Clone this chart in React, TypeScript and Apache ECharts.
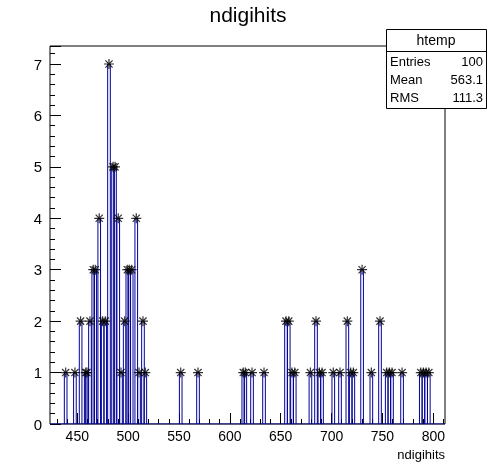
import React, { useEffect, useRef } from "react";
import * as echarts from "echarts";

const binWidth = 2.6;
const xMin = 423.2;
const xMax = 811.5;
const yMax = 7.35;
const binCenters = [
  438.6, 447.7, 453.3, 458.3, 459.5, 462.5, 465.7, 467.7, 471.6, 475, 477.5, 481.2, 485.2, 487.1, 490.3, 493,
  496.6, 499.2, 501.1, 503.5, 508, 510.7, 514.6, 516.9, 551.7, 568.7,
  613.2, 615.2, 621.8, 633.6, 655.2, 657.9, 661.1, 663.8, 679.2, 684.7, 688, 690.6, 701.7, 708.3, 715.5, 718.8,
  721.4, 730, 739.1, 747.6, 754.2, 756.8, 759.4, 769.3, 787.7, 790.3, 792.9, 795.6,
];
const binCounts = [
  1, 1, 2, 1, 1, 2, 3, 3, 4, 2, 2, 7, 5, 5, 4, 1,
  2, 3, 3, 3, 4, 1, 2, 1, 1, 1,
  1, 1, 1, 1, 2, 2, 1, 1, 1, 2, 1, 1, 1, 1, 2, 1,
  1, 3, 1, 2, 1, 1, 1, 1, 1, 1, 1, 1,
];
const xMajor = [450, 500, 550, 600, 650, 700, 750, 800];
const xMinor = [430, 440, 450, 460, 470, 480, 490, 500, 510, 520, 530, 540, 550, 560, 570, 580, 590, 600, 610, 620, 630, 640, 650, 660, 670, 680, 690, 700, 710, 720, 730, 740, 750, 760, 770, 780, 790, 800, 810];
const statsLabels = ["Entries", "Mean", "RMS"];
const statsValues = ["100", "563.1", "111.3"];

const FONT = "Liberation Sans";

export default function App() {
  const ref = useRef<HTMLDivElement>(null);
  useEffect(() => {
    const chart = echarts.init(ref.current!, null, { renderer: "svg" });
    const data = binCenters.map((c, i) => [c, binCounts[i]]);
    const baseX = {
      type: "value",
      min: xMin,
      max: xMax,
      splitLine: { show: false },
      axisLine: { show: false },
    };
    const graphic: any[] = [
      { type: "text", left: "center", top: 4, style: { text: "ndigihits", font: `21px ${FONT}`, fill: "#000" } },
      { type: "text", right: 51, top: 448, style: { text: "ndigihits", font: `13px ${FONT}`, fill: "#000" } },
      { type: "rect", shape: { x: 386.5, y: 29.5, width: 100, height: 79 }, style: { fill: "#fff", stroke: "#000", lineWidth: 1 }, z: 10 },
      { type: "line", shape: { x1: 386.5, y1: 51.5, x2: 486.5, y2: 51.5 }, style: { stroke: "#000", lineWidth: 1 }, z: 11 },
      { type: "text", x: 436, y: 33, style: { text: "htemp", font: `14px ${FONT}`, fill: "#000", align: "center" }, z: 11 },
    ];
    statsLabels.forEach((l, i) => {
      graphic.push({ type: "text", x: 390, y: 55 + i * 18, style: { text: l, font: `13px ${FONT}`, fill: "#000" }, z: 11 });
      graphic.push({ type: "text", x: 483, y: 55 + i * 18, style: { text: statsValues[i], font: `13px ${FONT}`, fill: "#000", align: "right" }, z: 11 });
    });
    chart.setOption({
      animation: false,
      grid: { left: 50, right: 51, top: 46, bottom: 48, show: true, borderColor: "#000", borderWidth: 1, backgroundColor: "#fff" },
      xAxis: [
        {
          ...baseX,
          axisTick: { show: true, inside: true, length: 5, customValues: xMinor, lineStyle: { color: "#000" } },
          axisLabel: { show: false },
        },
        {
          ...baseX,
          position: "bottom",
          axisTick: { show: true, inside: true, length: 11, customValues: xMajor, lineStyle: { color: "#000" } },
          axisLabel: { show: true, customValues: xMajor, color: "#000", fontFamily: FONT, fontSize: 14, margin: 5 },
        },
      ],
      yAxis: {
        type: "value",
        min: 0,
        max: yMax,
        interval: 1,
        splitLine: { show: false },
        axisLine: { show: false },
        axisTick: { show: true, inside: true, length: 11, lineStyle: { color: "#000" } },
        minorTick: { show: true, splitNumber: 5, length: 5, lineStyle: { color: "#000" } },
        axisLabel: { color: "#000", fontFamily: FONT, fontSize: 15, showMaxLabel: false, margin: 8 },
      },
      series: [
        {
          type: "line",
          xAxisIndex: 0,
          data: [[xMin, 0], [xMax, 0]],
          symbol: "none",
          lineStyle: { color: "#000099", width: 1 },
        },
        {
          type: "custom",
          xAxisIndex: 0,
          data,
          renderItem: (params: any, api: any) => {
            const c = api.value(0);
            const n = api.value(1);
            const p0 = api.coord([c - binWidth / 2, 0]);
            const p1 = api.coord([c + binWidth / 2, n]);
            return {
              type: "polyline",
              shape: { points: [[p0[0], p0[1]], [p0[0], p1[1]], [p1[0], p1[1]], [p1[0], p0[1]]] },
              style: { stroke: "#000099", fill: "none", lineWidth: 1 },
            };
          },
        },
        {
          type: "scatter",
          xAxisIndex: 0,
          data,
          symbol: "path://M0,-5L0,5M-5,0L5,0M-3.6,-3.6L3.6,3.6M-3.6,3.6L3.6,-3.6",
          symbolSize: 10,
          itemStyle: { color: "none", borderColor: "#000", borderWidth: 1.2 },
          z: 5,
        },
      ],
      graphic,
    });
    return () => chart.dispose();
  }, []);
  return <div ref={ref} style={{ position: "fixed", left: 0, top: 0, width: 496, height: 472 }} />;
}
